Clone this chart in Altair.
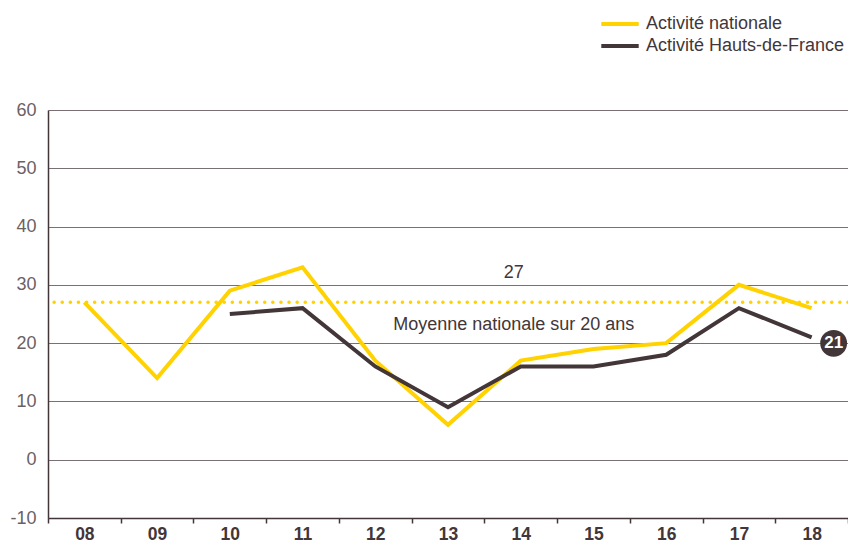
import altair as alt
import pandas as pd

years = ["08", "09", "10", "11", "12", "13", "14", "15", "16", "17", "18"]
nationale = [27, 14, 29, 33, 17, 6, 17, 19, 20, 30, 26]
hdf = [None, None, 25, 26, 16, 9, 16, 16, 18, 26, 21]
series_names = ["Activité nationale", "Activité Hauts-de-France"]
series_colors = ["#ffd200", "#433638"]
moyenne = 27
moyenne_label = "Moyenne nationale sur 20 ans"
y_ticks = [-10, 0, 10, 20, 30, 40, 50, 60]

FONT = "Liberation Sans"
DARK = "#433638"
GRAY = "#6b6163"

rows = []
for y, v in zip(years, nationale):
    rows.append({"annee": y, "valeur": v, "serie": series_names[0]})
for y, v in zip(years, hdf):
    if v is not None:
        rows.append({"annee": y, "valeur": v, "serie": series_names[1]})
df = pd.DataFrame(rows)

xscale = alt.Scale(type="band", domain=years, paddingInner=0, paddingOuter=0)
yscale = alt.Scale(domain=[-10, 60], nice=False, zero=False)

x_enc = alt.X(
    "annee:N",
    scale=xscale,
    bandPosition=0.5,
    axis=alt.Axis(
        title=None,
        labelAngle=0,
        labelFont=FONT,
        labelFontSize=17.5,
        labelFontWeight="bold",
        labelColor=DARK,
        labelPadding=2,
        tickBand="extent",
        tickSize=5,
        tickColor=DARK,
        tickWidth=1.5,
        domainColor=DARK,
        domainWidth=1.5,
        grid=False,
    ),
)
y_enc = alt.Y(
    "valeur:Q",
    scale=yscale,
    axis=alt.Axis(
        title=None,
        values=y_ticks,
        labelExpr="datum.value < 0 ? '-' + abs(datum.value) : '' + datum.value",
        labelFont=FONT,
        labelFontSize=18,
        labelColor=GRAY,
        labelPadding=12,
        ticks=False,
        domainColor=DARK,
        domainWidth=1.5,
        grid=True,
        gridColor="#7a7072",
        gridWidth=1,
    ),
)

lines = alt.Chart(df).mark_line(strokeWidth=4, strokeJoin="miter").encode(
    x=x_enc,
    y=y_enc,
    color=alt.Color(
        "serie:N",
        scale=alt.Scale(domain=series_names, range=series_colors),
        legend=alt.Legend(
            title=None,
            orient="none",
            legendX=551,
            legendY=-94,
            symbolType="stroke",
            symbolStrokeWidth=4,
            symbolSize=1400,
            clipHeight=16,
            labelFont=FONT,
            labelFontSize=18,
            labelColor=DARK,
            labelOffset=5,
            labelLimit=0,
            rowPadding=4,
            padding=0,
        ),
    ),
    detail="serie:N",
)

avg_rule = alt.Chart(pd.DataFrame({"v": [moyenne]})).mark_rule(
    color="#ffd200", strokeWidth=3.5, strokeDash=[0.1, 8], strokeCap="round"
).encode(y=alt.Y("v:Q", scale=yscale))

ann = pd.DataFrame({"annee": ["14"], "v": [moyenne], "t": [str(moyenne)], "m": [moyenne_label]})
avg_num = alt.Chart(ann).mark_text(
    font=FONT, fontSize=18, color=DARK, dx=-7, dy=-29
).encode(x=alt.X("annee:N", scale=xscale, bandPosition=0.5), y=alt.Y("v:Q", scale=yscale), text="t:N")
avg_txt = alt.Chart(ann).mark_text(
    font=FONT, fontSize=18, color=DARK, dx=-7, dy=23
).encode(x=alt.X("annee:N", scale=xscale, bandPosition=0.5), y=alt.Y("v:Q", scale=yscale), text="m:N")

last = pd.DataFrame({"annee": [years[-1]], "v": [hdf[-1]], "t": [str(hdf[-1])]})
badge = alt.Chart(last).mark_circle(size=720, color=DARK, opacity=1, xOffset=22, yOffset=6).encode(
    x=alt.X("annee:N", scale=xscale, bandPosition=0.5), y=alt.Y("v:Q", scale=yscale)
)
badge_txt = alt.Chart(last).mark_text(
    font=FONT, fontSize=17, fontWeight="bold", color="white", dx=22, dy=6
).encode(x=alt.X("annee:N", scale=xscale, bandPosition=0.5), y=alt.Y("v:Q", scale=yscale), text="t:N")

chart = (
    alt.layer(avg_rule, lines, avg_num, avg_txt, badge, badge_txt)
    .properties(
        width=800,
        height=408,
        autosize=alt.AutoSizeParams(type="none"),
        padding={"left": 40, "top": 102, "right": 0, "bottom": 25},
    )
    .configure_view(stroke=None)
)

chart.save("out.html", embed_options={"renderer": "svg", "actions": False})
